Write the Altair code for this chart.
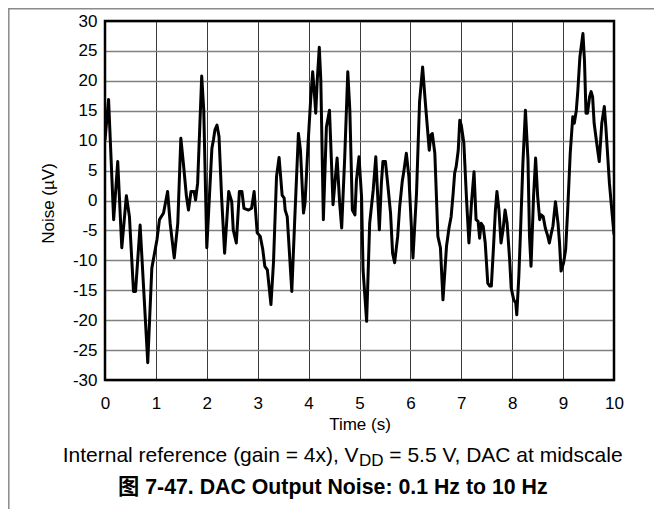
import altair as alt
import pandas as pd

# Time (s) and noise (uV)
time_s = [
    0.00, 0.07, 0.17, 0.25, 0.33, 0.42, 0.48, 0.56, 0.60, 0.69,
    0.84, 0.92, 1.02, 1.07, 1.15, 1.23, 1.28, 1.36, 1.43, 1.49,
    1.54, 1.60, 1.64, 1.69, 1.75, 1.78, 1.82, 1.90, 1.94, 2.00,
    2.10, 2.13, 2.16, 2.20, 2.24, 2.29, 2.35, 2.43, 2.49, 2.52,
    2.58, 2.64, 2.69, 2.73, 2.82, 2.88, 2.93, 2.99, 3.05, 3.10,
    3.14, 3.19, 3.26, 3.31, 3.37, 3.42, 3.48, 3.52, 3.54, 3.58,
    3.67, 3.73, 3.80, 3.84, 3.90, 3.93, 3.99, 4.04, 4.08, 4.11,
    4.14, 4.17, 4.21, 4.24, 4.29, 4.35, 4.41, 4.45, 4.48, 4.56,
    4.61, 4.65, 4.71, 4.77, 4.81, 4.86, 4.91, 4.94, 4.99, 5.04,
    5.07, 5.14, 5.20, 5.27, 5.32, 5.39, 5.43, 5.46, 5.51, 5.56,
    5.61, 5.65, 5.69, 5.75, 5.79, 5.84, 5.87, 5.92, 5.97, 6.05,
    6.12, 6.18, 6.24, 6.30, 6.37, 6.40, 6.43, 6.48, 6.54, 6.59,
    6.64, 6.71, 6.76, 6.80, 6.84, 6.87, 6.90, 6.94, 6.97, 7.00,
    7.05, 7.10, 7.15, 7.20, 7.25, 7.29, 7.33, 7.36, 7.39, 7.43,
    7.47, 7.52, 7.56, 7.59, 7.63, 7.67, 7.70, 7.74, 7.78, 7.82,
    7.86, 7.90, 7.95, 7.98, 8.03, 8.07, 8.09, 8.13, 8.16, 8.21,
    8.26, 8.31, 8.34, 8.37, 8.42, 8.46, 8.50, 8.54, 8.57, 8.61,
    8.65, 8.70, 8.73, 8.77, 8.80, 8.85, 8.90, 8.93, 8.96, 9.01,
    9.05, 9.09, 9.14, 9.19, 9.22, 9.26, 9.29, 9.33, 9.39, 9.42,
    9.45, 9.48, 9.52, 9.55, 9.58, 9.61, 9.66, 9.71, 9.76, 9.81,
    9.84, 9.91, 10.00,
]
noise_uv = [
    10.1, 16.9, -3.2, 6.5, -7.9, 0.8, -2.7, -15.2, -15.2, -4.1,
    -27.1, -11.3, -6.6, -3.2, -2.1, 1.5, -3.8, -9.6, -3.8, 10.4,
    6.2, 0.7, -1.6, 1.5, 1.5, 0.1, 2.9, 20.8, 15.1, -7.9,
    8.7, 10.1, 11.8, 12.6, 10.7, 0.7, -8.8, 1.5, -0.2, -4.9,
    -7.1, 1.5, 1.5, -1.3, -1.6, -1.3, 1.5, -5.4, -6.0, -8.2,
    -11.0, -11.6, -17.4, -10.4, 4.0, 7.2, 0.9, 0.4, -1.6, -2.7,
    -15.2, -2.7, 11.2, 8.4, -2.1, -0.4, 9.6, 16.8, 21.5, 18.4,
    14.6, 20.1, 25.6, 20.1, -3.2, 12.3, 15.1, 6.2, -0.7, 7.1,
    -0.4, -4.6, 7.3, 21.5, 15.1, -1.6, -2.4, 3.4, 7.3, 0.7,
    -11.6, -20.2, -3.8, 1.8, 7.3, -4.9, 2.9, 6.5, 6.5, 2.3,
    -2.1, -8.8, -10.4, -6.0, -1.0, 3.2, 4.8, 7.9, 4.0, -9.6,
    1.2, 16.5, 22.3, 15.7, 8.4, 10.9, 11.2, 7.9, -6.0, -7.9,
    -16.6, -7.6, -4.5, -2.7, 1.2, 4.6, 5.7, 8.4, 13.4, 12.6,
    9.6, 0.7, -7.1, -0.4, 4.8, -3.2, -3.5, -6.3, -3.8, -4.3,
    -7.1, -13.8, -14.3, -14.3, -8.2, -1.6, 1.5, -1.6, -7.1, -4.9,
    -1.6, -3.8, -9.9, -14.6, -16.6, -17.1, -19.1, -12.7, -6.0, 6.2,
    15.1, 6.8, -6.0, -11.0, 0.7, 7.1, 0.7, -3.2, -2.4, -2.7,
    -4.6, -6.0, -7.1, -5.4, -4.3, -0.2, -3.8, -7.1, -11.8, -10.4,
    -8.2, -1.6, 7.9, 14.0, 12.9, 15.1, 18.4, 24.0, 27.9, 23.4,
    14.6, 14.6, 17.3, 18.2, 17.3, 12.9, 9.6, 6.5, 12.9, 15.7,
    12.3, 2.9, -5.7,
]
assert len(time_s) == len(noise_uv)

x_ticks = list(range(0, 11))
y_ticks = list(range(-30, 31, 5))

x_title = "Time (s)"
y_title = "Noise (µV)"
sub_a = "Internal reference (gain = 4x), V"
sub_b = "DD"
sub_c = "= 5.5 V, DAC at midscale"
caption = "图 7-47. DAC Output Noise: 0.1 Hz to 10 Hz"

FONT = "Liberation Sans, Arial, Noto Sans CJK SC, sans-serif"

df = pd.DataFrame({"t": time_s, "v": noise_uv})
frame_df = pd.DataFrame({"x0": [0], "x1": [10], "y0": [-30], "y1": [30]})
one = pd.DataFrame({"k": [0]})

xs = alt.Scale(domain=[0, 10], nice=False, zero=False)
ys = alt.Scale(domain=[-30, 30], nice=False, zero=False)

x_axis = alt.Axis(
    values=x_ticks, title=x_title, grid=True, gridColor="#3a3a3a", gridWidth=1,
    ticks=False, tickSize=0, domain=False, labelOverlap=False,
    labelFont=FONT, labelFontSize=17, labelColor="black",
    labelBaseline="alphabetic", labelPadding=28, labelFlush=False,
    titleFont=FONT, titleFontSize=17, titleFontWeight="normal", titleColor="black",
    titleBaseline="alphabetic", titleY=49,
)
y_axis = alt.Axis(
    values=y_ticks, title=y_title, grid=True, gridColor="#808080", gridWidth=1.5,
    ticks=False, tickSize=0, domain=False, labelOverlap=False,
    labelFont=FONT, labelFontSize=17, labelColor="black",
    labelPadding=8, labelFlush=False, labelExpr="'' + datum.value",
    titleFont=FONT, titleFontSize=17, titleFontWeight="normal", titleColor="black",
    titleAngle=270, titleAlign="center", titleBaseline="alphabetic",
    titleX=-52, titleY=182,
)

line = alt.Chart(df).mark_line(color="black", strokeWidth=3, clip=True,
                               strokeJoin="round").encode(
    x=alt.X("t:Q", scale=xs, axis=x_axis),
    y=alt.Y("v:Q", scale=ys, axis=y_axis),
)

frame = alt.Chart(frame_df).mark_rect(fillOpacity=0, stroke="black", strokeWidth=2.5).encode(
    x=alt.X("x0:Q", scale=xs, axis=x_axis), x2="x1:Q",
    y=alt.Y("y0:Q", scale=ys, axis=y_axis), y2="y1:Q",
)

def txt(s, xpos, ypos, size, weight="normal"):
    return alt.Chart(one).mark_text(
        text=s, align="left", baseline="alphabetic", font=FONT, fontSize=size,
        fontWeight=weight, color="black",
    ).encode(x=alt.value(xpos), y=alt.value(ypos))

t_a = txt(sub_a, -42.3, 440.7, 21)
t_b = txt(sub_b, 254, 444.5, 17)
t_c = txt(sub_c, 284.3, 440.7, 21)
t_cap = txt(caption, 13, 472.5, 21.3, "bold")

border_left = alt.Chart(one).mark_rule(color="#8a8a8a", strokeWidth=1.5).encode(
    x=alt.value(-96.2), y=alt.value(-13), y2=alt.value(490))
border_top = alt.Chart(one).mark_rule(color="#8a8a8a", strokeWidth=1.5).encode(
    x=alt.value(-97), x2=alt.value(549), y=alt.value(-12.2))

chart = alt.layer(line, frame, t_a, t_b, t_c, t_cap, border_left, border_top).properties(
    width=509, height=359,
    autosize=alt.AutoSizeParams(type="none"),
    padding={"left": 97, "top": 13, "right": 40, "bottom": 129},
    background="white",
).configure_view(stroke=None)

chart.save("out.html", embed_options={"renderer": "svg", "actions": False})
